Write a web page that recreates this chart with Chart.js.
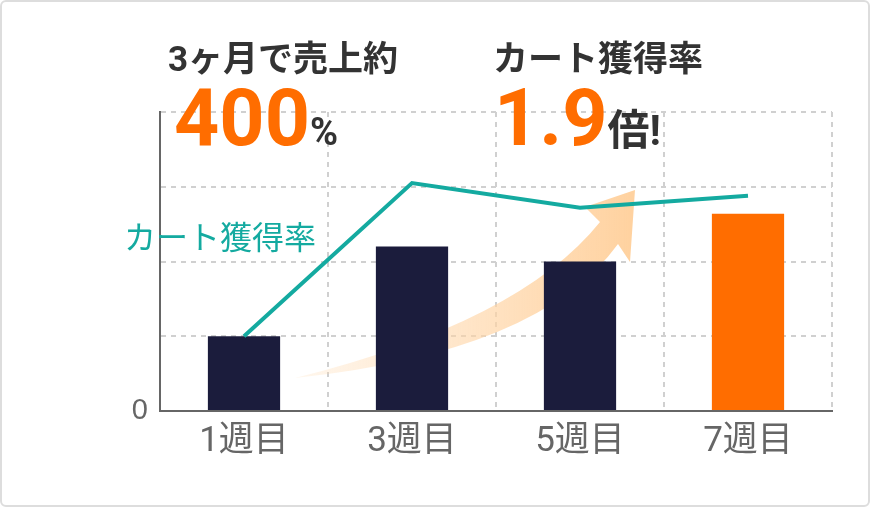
<!DOCTYPE html>
<html><head><meta charset="utf-8">
<script src="https://cdn.jsdelivr.net/npm/chart.js@4"></script>
<style>
body{margin:0;background:#fff;font-family:Roboto,"Noto Sans CJK JP",sans-serif}
#wrap{position:relative;width:870px;height:507px;box-sizing:border-box;border:2px solid #ddd;border-radius:6px;overflow:hidden}
canvas{position:absolute;left:-2px;top:-2px}
.t{position:absolute;font-weight:bold;color:#333;white-space:nowrap}
.o{color:#ff6d00}
</style></head>
<body><div id="wrap">
<canvas id="c" width="870" height="507"></canvas>
<div class="t" style="left:166px;top:28px;font-size:35px">3ヶ月で売上約</div>
<div class="t" style="left:172px;top:70px;font-size:79px;line-height:92px"><span class="o">400</span><span style="font-size:38px">%</span></div>
<div class="t" style="left:491px;top:28px;font-size:35px">カート獲得率</div>
<div class="t" style="left:492px;top:70px;font-size:79px;line-height:92px"><span class="o">1.9</span><span style="font-size:42px">倍!</span></div>
<div class="t" style="left:122px;top:210px;font-size:32px;font-weight:normal;color:#14aaa0">カート獲得率</div>
</div>
<script>
var weeks = ['1週目', '3週目', '5週目', '7週目'];
var sales = [1.0, 2.2, 2.0, 2.64];
var cartRate = [1.0, 3.05, 2.72, 2.88];
var barColors = ['#1b1c3c', '#1b1c3c', '#1b1c3c', '#ff6d00'];

var arrow = {
  id: 'arrow',
  beforeDatasetsDraw: function(chart) {
    var c = chart.ctx, a = chart.chartArea;
    var x0 = a.left, y0 = a.top;
    c.save();
    var g = c.createLinearGradient(x0 + 135, 0, x0 + 470, 0);
    g.addColorStop(0, 'rgba(255,214,168,0.2)');
    g.addColorStop(1, 'rgba(255,210,160,1)');
    c.fillStyle = g;
    c.beginPath();
    c.moveTo(x0 + 135, y0 + 266);
    c.quadraticCurveTo(x0 + 360, y0 + 210, x0 + 440, y0 + 110);
    c.lineTo(x0 + 425, y0 + 95);
    c.lineTo(x0 + 475, y0 + 78);
    c.lineTo(x0 + 470, y0 + 150);
    c.lineTo(x0 + 458, y0 + 132);
    c.quadraticCurveTo(x0 + 380, y0 + 240, x0 + 135, y0 + 266);
    c.fill();
    c.restore();
  }
};

new Chart(document.getElementById('c'), {
  data: {
    labels: weeks,
    datasets: [
      { type: 'line', data: cartRate, borderColor: '#14aaa0', borderWidth: 4, pointRadius: 0, tension: 0, order: 0 },
      { type: 'bar', data: sales, backgroundColor: barColors, barPercentage: 0.43, categoryPercentage: 1, order: 1 }
    ]
  },
  options: {
    responsive: false,
    animation: false,
    layout: { padding: { top: 112, right: 38, left: 0, bottom: 0 } },
    plugins: { legend: { display: false }, tooltip: { enabled: false } },
    scales: {
      x: {
        afterFit: function(s) { s.height = 96; },
        grid: { offset: true, color: '#d0d0d0', lineWidth: 2, tickLength: 0 },
        border: { color: '#666', width: 2, dash: [5, 5] },
        ticks: { color: '#666', font: { size: 35, family: 'Roboto, "Noto Sans CJK JP"' }, padding: 10 }
      },
      y: {
        min: 0, max: 4,
        afterFit: function(s) { s.width = 160; },
        grid: { color: '#d0d0d0', lineWidth: 2, tickLength: 0 },
        border: { color: '#666', width: 2, dash: [5, 5] },
        ticks: { stepSize: 1, color: '#666', font: { size: 29 }, padding: 12,
          callback: function(v) { return v === 0 ? '0' : ''; } }
      }
    }
  },
  plugins: [arrow]
});
</script></body></html>
